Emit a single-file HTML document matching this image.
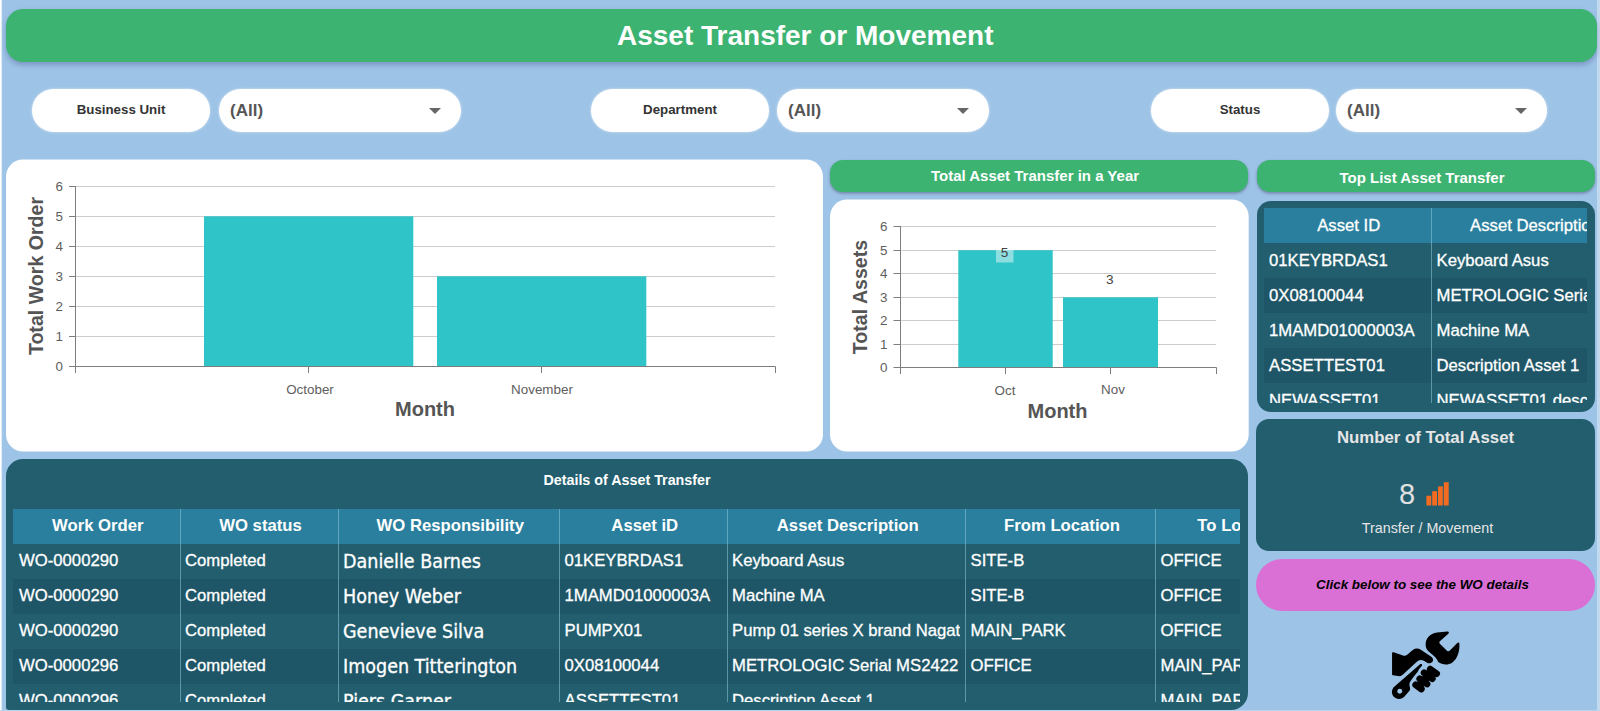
<!DOCTYPE html>
<html lang="en">
<head>
<meta charset="utf-8">
<title>Asset Transfer or Movement</title>
<style>
*{box-sizing:border-box;margin:0;padding:0}
html,body{width:1600px;height:711px;overflow:hidden}
body{background:#9dc3e6;font-family:"Liberation Sans",sans-serif;position:relative;color:#555}
.abs{position:absolute}
.edgeL{left:0;top:0;width:3px;height:711px;background:linear-gradient(90deg,#fff 0,#fdfeff 1px,#9dc3e6 2.6px)}
.edgeR{left:1597px;top:0;width:3px;height:711px;background:#c3d9ee}
.edgeB{left:0;top:709.5px;width:1600px;height:2px;background:#b9d3ec}
.title{left:6px;top:9px;width:1591px;height:53px;border-radius:17px;background:#3cb371;color:#fff;font-weight:bold;font-size:28px;text-align:center;line-height:53px;padding-left:7.5px;box-shadow:0 3px 5px rgba(70,80,140,.38)}
.pill{height:43px;top:89px;background:#fff;border-radius:21.5px;box-shadow:0 0 3px rgba(255,255,255,.6)}
.pill.lab{font-weight:bold;font-size:13.3px;color:#333;text-align:center;line-height:41px}
.pill.dd{font-weight:bold;font-size:17px;color:#555;line-height:43px;padding-left:11px}
.pill.dd i{position:absolute;right:20px;top:19px;width:0;height:0;border-left:6px solid transparent;border-right:6px solid transparent;border-top:6px solid #666}
.white{background:#fff;border-radius:17px}
.gh{background:#3cb371;color:#fff;font-weight:bold;font-size:15px;text-align:center;height:32px;line-height:32px;border-radius:13px;box-shadow:0 1.5px 3px rgba(70,70,110,.5)}
.dark{background:#225e6e;border-radius:14px}
svg text{font-family:"Liberation Sans",sans-serif}
.tbl{overflow:hidden;color:#fff;font-size:16.7px}
.row{position:absolute;left:0;height:35px;line-height:35px;white-space:nowrap}
.row.h{background:#2a7f9e}
.row.d{background:#1f5667}
.c{position:absolute;top:0;height:35px;line-height:33px;padding-left:4.5px;overflow:hidden;white-space:nowrap;border-left:1px solid rgba(140,200,215,.55);border-right:5px solid transparent}
.c.first{border-left:none;padding-left:6px}
.t2 .c{line-height:35px}
.t2 .c.first{padding-left:5.5px}
.tbl .row:not(.b) .c{-webkit-text-stroke:.3px #fff}
.h .c{text-align:center;padding-left:3px;border-right:none}
.h .c.first{padding-left:3px}
.b .c{font-weight:bold}
.c.seg{line-height:35px;font-family:"DejaVu Sans Condensed","DejaVu Sans",sans-serif;font-size:19.5px}
</style>
</head>
<body>
<div class="abs edgeL"></div><div class="abs edgeR"></div><div class="abs edgeB"></div>

<div class="abs title">Asset Transfer or Movement</div>

<div class="abs pill lab" style="left:32px;width:178px">Business Unit</div>
<div class="abs pill dd" style="left:219px;width:242px">(All)<i></i></div>
<div class="abs pill lab" style="left:591px;width:178px">Department</div>
<div class="abs pill dd" style="left:777px;width:212px">(All)<i></i></div>
<div class="abs pill lab" style="left:1151px;width:178px">Status</div>
<div class="abs pill dd" style="left:1336px;width:211px">(All)<i></i></div>

<!-- charts -->
<div class="abs gh" style="left:830px;top:160px;width:418px;padding-right:8px">Total Asset Transfer in a Year</div>
<svg class="abs" style="left:0;top:150px" width="1260" height="310" viewBox="0 150 1260 310">
 <rect x="6" y="159.5" width="817" height="292" rx="17" fill="#fff"/>
 <rect x="830" y="199.5" width="418.7" height="252" rx="17" fill="#fff"/>
 <!-- chart 1 -->
 <g stroke="#cdcdcd" stroke-width="1">
  <path d="M76 186.5H775M76 216.5H775M76 246.5H775M76 276.5H775M76 306.5H775M76 336.5H775"/>
 </g>
 <rect x="204" y="216.3" width="209.3" height="150.2" fill="#2ec4c8"/>
 <rect x="437" y="276.3" width="209.3" height="90.2" fill="#2ec4c8"/>
 <g stroke="#7d7d7d" stroke-width="1" fill="none">
  <path d="M75.5 186V373M69 366.5H775.5V373M69 186.5H76M69 216.5H76M69 246.5H76M69 276.5H76M69 306.5H76M69 336.5H76M308.5 367V373M541.5 367V373"/>
 </g>
 <g font-size="13.4" fill="#5e5e5e" text-anchor="end">
  <text x="63" y="190.6">6</text><text x="63" y="220.6">5</text><text x="63" y="250.6">4</text><text x="63" y="280.6">3</text><text x="63" y="310.6">2</text><text x="63" y="340.6">1</text><text x="63" y="370.6">0</text>
 </g>
 <g font-size="13.4" fill="#5e5e5e" text-anchor="middle">
  <text x="310" y="393.6">October</text><text x="542" y="393.6">November</text>
 </g>
 <text x="425" y="416.3" font-size="20" font-weight="bold" fill="#555" text-anchor="middle">Month</text>
 <text transform="translate(43 276) rotate(-90)" font-size="19.6" font-weight="bold" fill="#555" text-anchor="middle">Total Work Order</text>
 <!-- chart 2 -->
 <g stroke="#cdcdcd" stroke-width="1">
  <path d="M901 226.5H1216M901 250.5H1216M901 273.5H1216M901 297.5H1216M901 320.5H1216M901 344.5H1216"/>
 </g>
 <rect x="958.3" y="250.2" width="94.4" height="117.3" fill="#2ec4c8"/>
 <rect x="1063" y="297.3" width="95" height="70.2" fill="#2ec4c8"/>
 <rect x="996" y="247.7" width="17.5" height="14.8" fill="#fff" fill-opacity=".45"/>
 <g stroke="#7d7d7d" stroke-width="1" fill="none">
  <path d="M900.5 226V374M893.5 367.5H1216.5V374M893.5 226.5H901M893.5 250.5H901M893.5 273.5H901M893.5 297.5H901M893.5 320.5H901M893.5 344.5H901M1005.5 368V374M1110.5 368V374"/>
 </g>
 <g font-size="13.4" fill="#5e5e5e" text-anchor="end">
  <text x="887.5" y="231">6</text><text x="887.5" y="254.6">5</text><text x="887.5" y="278.1">4</text><text x="887.5" y="301.7">3</text><text x="887.5" y="325.2">2</text><text x="887.5" y="348.8">1</text><text x="887.5" y="372.3">0</text>
 </g>
 <g font-size="13.4" fill="#5e5e5e" text-anchor="middle">
  <text x="1005" y="394.8">Oct</text><text x="1113" y="394.3">Nov</text>
 </g>
 <g font-size="13.6" fill="#444" text-anchor="middle">
  <text x="1004.5" y="257">5</text><text x="1109.7" y="283.5">3</text>
 </g>
 <text x="1057.5" y="417.8" font-size="20" font-weight="bold" fill="#555" text-anchor="middle">Month</text>
 <text transform="translate(866.8 297) rotate(-90)" font-size="19.6" font-weight="bold" fill="#555" text-anchor="middle">Total Assets</text>
</svg>

<!-- right column -->
<div class="abs gh" style="left:1256.5px;top:160px;width:338px;line-height:35px;padding-right:7px">Top List Asset Transfer</div>
<div class="abs dark" style="left:1256.5px;top:200.5px;width:338.5px;height:211px"></div>
<div class="abs tbl t2" style="left:1263.5px;top:207.5px;width:323px;height:195.5px">
 <div class="row h" style="top:0;width:400px"><div class="c first" style="left:0;width:167.5px">Asset ID</div><div class="c" style="left:167.5px;width:204px">Asset Description</div></div>
 <div class="row" style="top:35px;width:400px"><div class="c first" style="left:0;width:167.5px">01KEYBRDAS1</div><div class="c" style="left:167.5px;width:210px">Keyboard Asus</div></div>
 <div class="row d" style="top:70px;width:400px"><div class="c first" style="left:0;width:167.5px">0X08100044</div><div class="c" style="left:167.5px;width:210px">METROLOGIC Serial MS2422</div></div>
 <div class="row" style="top:105px;width:400px"><div class="c first" style="left:0;width:167.5px">1MAMD01000003A</div><div class="c" style="left:167.5px;width:210px">Machine MA</div></div>
 <div class="row d" style="top:140px;width:400px"><div class="c first" style="left:0;width:167.5px">ASSETTEST01</div><div class="c" style="left:167.5px;width:210px">Description Asset 1</div></div>
 <div class="row" style="top:175px;width:400px"><div class="c first" style="left:0;width:167.5px">NEWASSET01</div><div class="c" style="left:167.5px;width:210px">NEWASSET01 description</div></div>
</div>

<div class="abs dark" style="left:1256px;top:419px;width:339px;height:132px;border-radius:13px">
 <div class="abs" style="left:0;top:8px;width:339px;text-align:center;font-weight:bold;font-size:16.8px;color:#e6e6e6;line-height:22px">Number of Total Asset</div>
 <div class="abs" style="left:143px;top:59px;font-size:29px;color:#e0e0e0;line-height:32px">8</div>
 <svg class="abs" style="left:170px;top:63px" width="24" height="24" viewBox="0 0 24 24"><g fill="#f26b21"><rect x="0.4" y="13.7" width="4.8" height="9.8"/><rect x="6.2" y="9.2" width="4.8" height="14.3"/><rect x="12" y="4.4" width="4.8" height="19.1"/><rect x="17.8" y="0.2" width="4.9" height="23.3"/></g></svg>
 <div class="abs" style="left:2px;top:99px;width:339px;text-align:center;font-size:14.3px;color:#e6e6e6;line-height:20px">Transfer / Movement</div>
</div>

<div class="abs" style="left:1256px;top:559px;width:339px;height:52px;border-radius:26px;background:#da70d6;color:#000;font-weight:bold;font-style:italic;font-size:13.4px;text-align:center;line-height:52px;padding-right:6px">Click below to see the WO details</div>

<!--ICON--><svg class="abs" style="left:1388px;top:628px" width="76" height="76" viewBox="0 0 711 711">
 <g fill="#000">
  <path d="M352 160 C350 100 390 50 460 42 L555 33 C570 32 574 44 564 54 L488 122 C478 131 478 141 487 150 L552 212 C561 220 571 219 579 211 L648 140 C658 130 668 135 668 148 C672 215 650 290 600 325 C560 350 505 345 470 318 C462 300 452 280 430 262 L375 215 C360 200 353 180 352 160 Z"/>
  <path d="M38 235 C38 228 44 225 52 228 L140 257 C155 262 170 258 182 248 L235 203 C255 188 285 188 308 203 L405 268 C425 282 428 305 412 320 C398 333 380 333 362 322 L335 306 C315 295 292 298 275 312 L135 440 C122 450 108 453 92 450 L48 442 C41 441 38 437 38 430 Z"/>
  <path d="M300 340 C310 332 324 340 318 352 L290 385 L278 410 L240 456 L210 498 C202 510 199 520 201 540 L206 562 C208 574 206 582 199 589 L150 645 C120 672 75 668 52 640 C30 612 32 575 58 550 Z"/>
 </g>
 <g stroke="#000" stroke-width="63" stroke-linecap="round" fill="none">
  <path d="M395 385L455 427M338 419L415 474M297 475L365 524M259 531L312 571"/>
  <path d="M412 408L290 542" stroke-width="74" stroke-linecap="butt"/>
 </g>
 <circle cx="110" cy="592" r="23" fill="#9dc3e6"/>
</svg>
<!--/ICON-->

<!-- details -->
<div class="abs dark" style="left:6px;top:459px;width:1242px;height:250.5px;border-radius:17px 17px 17px 3px"></div>
<div class="abs" style="left:6px;top:470px;width:1242px;text-align:center;font-weight:bold;font-size:14.3px;color:#fff;line-height:20px">Details of Asset Transfer</div>
<div class="abs tbl" style="left:13px;top:508.5px;width:1227px;height:193px">
 <div class="row h b" style="top:0;width:1500px"><div class="c first" style="left:0;width:166.5px">Work Order</div><div class="c" style="left:166.5px;width:158px">WO status</div><div class="c" style="left:324.5px;width:221.5px">WO Responsibility</div><div class="c" style="left:546px;width:167.5px">Asset iD</div><div class="c" style="left:713.5px;width:238.5px">Asset Description</div><div class="c" style="left:952px;width:190px">From Location</div><div class="c" style="left:1142px;width:174px">To Location</div></div>
 <div class="row" style="top:35px;width:1500px"><div class="c first" style="left:0;width:166.5px">WO-0000290</div><div class="c" style="left:166.5px;width:158px">Completed</div><div class="c seg" style="left:324.5px;width:221.5px">Danielle Barnes</div><div class="c" style="left:546px;width:167.5px">01KEYBRDAS1</div><div class="c" style="left:713.5px;width:238.5px">Keyboard Asus</div><div class="c" style="left:952px;width:190px">SITE-B</div><div class="c" style="left:1142px;width:150px">OFFICE</div></div>
 <div class="row d" style="top:70px;width:1500px"><div class="c first" style="left:0;width:166.5px">WO-0000290</div><div class="c" style="left:166.5px;width:158px">Completed</div><div class="c seg" style="left:324.5px;width:221.5px">Honey Weber</div><div class="c" style="left:546px;width:167.5px">1MAMD01000003A</div><div class="c" style="left:713.5px;width:238.5px">Machine MA</div><div class="c" style="left:952px;width:190px">SITE-B</div><div class="c" style="left:1142px;width:150px">OFFICE</div></div>
 <div class="row" style="top:105px;width:1500px"><div class="c first" style="left:0;width:166.5px">WO-0000290</div><div class="c" style="left:166.5px;width:158px">Completed</div><div class="c seg" style="left:324.5px;width:221.5px">Genevieve Silva</div><div class="c" style="left:546px;width:167.5px">PUMPX01</div><div class="c" style="left:713.5px;width:238.5px">Pump 01 series X brand Nagato</div><div class="c" style="left:952px;width:190px">MAIN_PARK</div><div class="c" style="left:1142px;width:150px">OFFICE</div></div>
 <div class="row d" style="top:140px;width:1500px"><div class="c first" style="left:0;width:166.5px">WO-0000296</div><div class="c" style="left:166.5px;width:158px">Completed</div><div class="c seg" style="left:324.5px;width:221.5px">Imogen Titterington</div><div class="c" style="left:546px;width:167.5px">0X08100044</div><div class="c" style="left:713.5px;width:238.5px">METROLOGIC Serial MS2422</div><div class="c" style="left:952px;width:190px">OFFICE</div><div class="c" style="left:1142px;width:150px">MAIN_PARK</div></div>
 <div class="row" style="top:175px;width:1500px"><div class="c first" style="left:0;width:166.5px">WO-0000296</div><div class="c" style="left:166.5px;width:158px">Completed</div><div class="c seg" style="left:324.5px;width:221.5px">Piers Garner</div><div class="c" style="left:546px;width:167.5px">ASSETTEST01</div><div class="c" style="left:713.5px;width:238.5px">Description Asset 1</div><div class="c" style="left:952px;width:190px"></div><div class="c" style="left:1142px;width:150px">MAIN_PARK</div></div>
</div>
</body>
</html>
